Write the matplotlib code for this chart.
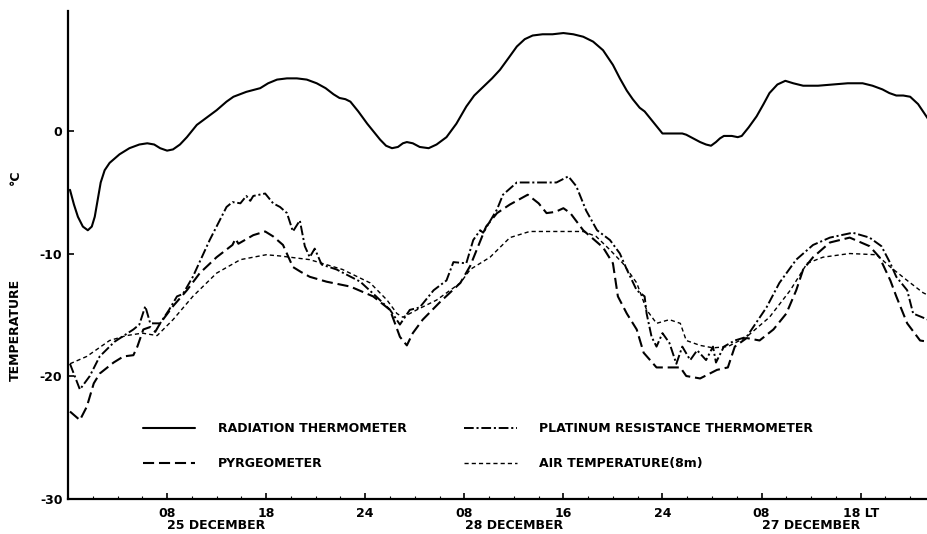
import matplotlib
matplotlib.use("Agg")
import matplotlib.pyplot as plt
from matplotlib.ticker import FixedLocator, MultipleLocator

plt.rcParams['font.family'] = ['DejaVu Sans']
plt.rcParams['font.weight'] = 'bold'
plt.rcParams['lines.scale_dashes'] = False

# ---- data (x in tick-interval units from the left axis) ----
rad_t = [0.02, 0.06, 0.10, 0.15, 0.20, 0.24, 0.27, 0.30, 0.33, 0.37, 0.42, 0.52, 0.62, 0.72,
         0.80, 0.87, 0.93, 1.00, 1.06, 1.13, 1.20, 1.30, 1.40, 1.50, 1.60, 1.67, 1.80, 1.94,
         2.02, 2.11, 2.21, 2.31, 2.41, 2.51, 2.60, 2.68, 2.74, 2.80, 2.85, 2.93, 3.02, 3.09,
         3.15, 3.21, 3.27, 3.33, 3.38, 3.42, 3.48, 3.55, 3.64, 3.72, 3.82, 3.92, 4.02, 4.10,
         4.19, 4.28, 4.36, 4.45, 4.53, 4.61, 4.69, 4.79, 4.89, 5.00, 5.10, 5.20, 5.30, 5.40,
         5.50, 5.57, 5.64, 5.70, 5.77, 5.82, 5.87, 5.94, 6.00, 6.10, 6.20, 6.24, 6.31, 6.38,
         6.44, 6.49, 6.54, 6.58, 6.62, 6.70, 6.76, 6.80, 6.87, 6.95, 7.02, 7.08, 7.16, 7.24,
         7.32, 7.42, 7.57, 7.72, 7.87, 8.02, 8.12, 8.22, 8.29, 8.36, 8.43, 8.50, 8.58, 8.68]
rad_v = [-4.8, -6.0, -7.0, -7.8, -8.1, -7.8, -7.0, -5.6, -4.2, -3.2, -2.6, -1.9, -1.4, -1.1,
         -1.0, -1.1, -1.4, -1.6, -1.5, -1.1, -0.5, 0.5, 1.1, 1.7, 2.4, 2.8, 3.2, 3.5,
         3.9, 4.2, 4.3, 4.3, 4.2, 3.9, 3.5, 3.0, 2.7, 2.6, 2.4, 1.6, 0.6, -0.1,
         -0.7, -1.2, -1.4, -1.3, -1.0, -0.9, -1.0, -1.3, -1.4, -1.1, -0.5, 0.6, 2.0, 2.9,
         3.6, 4.3, 5.0, 6.0, 6.9, 7.5, 7.8, 7.9, 7.9, 8.0, 7.9, 7.7, 7.3, 6.6,
         5.4, 4.3, 3.3, 2.6, 1.9, 1.6, 1.1, 0.4, -0.2, -0.2, -0.2, -0.3, -0.6, -0.9,
         -1.1, -1.2, -0.9, -0.6, -0.4, -0.4, -0.5, -0.4, 0.3, 1.2, 2.2, 3.1, 3.8, 4.1,
         3.9, 3.7, 3.7, 3.8, 3.9, 3.9, 3.7, 3.4, 3.1, 2.9, 2.9, 2.8, 2.2, 1.0]

pyr_t = [0.02, 0.12, 0.19, 0.26, 0.32, 0.46, 0.56, 0.66, 0.70, 0.76, 0.83, 0.88, 0.93, 1.06,
         1.20, 1.33, 1.50, 1.66, 1.69, 1.72, 1.87, 1.99, 2.07, 2.17, 2.27, 2.35, 2.44, 2.61,
         2.85, 3.08, 3.25, 3.35, 3.42, 3.48, 3.58, 3.75, 3.96, 4.06, 4.16, 4.22, 4.33, 4.46,
         4.64, 4.75, 4.83, 4.92, 5.00, 5.07, 5.20, 5.40, 5.50, 5.55, 5.64, 5.74, 5.81, 5.94,
         6.07, 6.18, 6.24, 6.38, 6.55, 6.66, 6.73, 6.85, 6.98, 7.12, 7.25, 7.35, 7.42, 7.52,
         7.69, 7.89, 8.09, 8.19, 8.30, 8.36, 8.47, 8.60, 8.68]
pyr_v = [-22.9, -23.6, -22.5, -20.6, -19.8, -18.9, -18.4, -18.3, -17.6, -16.2, -16.0, -16.4, -15.7, -14.3,
         -13.0, -11.6, -10.3, -9.3, -8.8, -9.2, -8.5, -8.2, -8.6, -9.3, -11.1, -11.5, -11.9, -12.3,
         -12.7, -13.5, -14.6, -16.8, -17.5, -16.5, -15.4, -14.0, -12.4, -11.0, -9.0, -7.8, -6.7, -6.0,
         -5.2, -5.9, -6.7, -6.6, -6.3, -6.7, -8.1, -9.5, -10.8, -13.5, -14.9, -16.2, -18.1, -19.3,
         -19.3, -19.3, -20.0, -20.2, -19.5, -19.3, -17.6, -16.9, -17.1, -16.2, -14.9, -13.0, -11.3, -10.3,
         -9.1, -8.7, -9.4, -10.3, -12.2, -13.5, -15.7, -17.1, -17.2]

plt_t = [0.02, 0.12, 0.22, 0.32, 0.47, 0.66, 0.72, 0.78, 0.83, 0.93, 1.02, 1.10, 1.16, 1.26,
         1.43, 1.60, 1.66, 1.74, 1.80, 1.84, 1.87, 1.99, 2.07, 2.14, 2.21, 2.27, 2.34, 2.39,
         2.44, 2.49, 2.56, 2.71, 2.95, 3.11, 3.25, 3.35, 3.45, 3.55, 3.69, 3.82, 3.89, 4.02,
         4.09, 4.16, 4.19, 4.33, 4.39, 4.53, 4.73, 4.93, 5.05, 5.13, 5.23, 5.34, 5.47, 5.57,
         5.64, 5.74, 5.82, 5.84, 5.89, 5.94, 6.00, 6.07, 6.14, 6.20, 6.28, 6.35, 6.44, 6.51,
         6.54, 6.62, 6.73, 6.85, 7.05, 7.18, 7.35, 7.52, 7.69, 7.92, 8.09, 8.21, 8.30, 8.36,
         8.47, 8.53, 8.68]
plt_v = [-19.0, -21.1, -20.0, -18.4, -17.2, -16.2, -15.8, -14.3, -15.7, -15.7, -14.6, -13.5, -13.3, -11.9,
         -8.9, -6.2, -5.8, -5.9, -5.3, -5.7, -5.3, -5.1, -5.9, -6.2, -6.7, -8.2, -7.3, -9.4,
         -10.3, -9.6, -10.9, -11.3, -12.3, -13.5, -14.6, -15.8, -14.6, -14.4, -13.0, -12.2, -10.7, -10.8,
         -8.9, -8.1, -8.3, -6.4, -5.2, -4.2, -4.2, -4.2, -3.7, -4.5, -6.5, -8.1, -8.9, -10.0,
         -11.3, -13.0, -13.5, -14.9, -16.8, -17.6, -16.5, -17.3, -19.0, -17.6, -18.7, -17.9, -18.7, -17.6,
         -18.9, -17.6, -17.1, -16.8, -14.4, -12.4, -10.5, -9.3, -8.7, -8.3, -8.7, -9.4, -10.8, -11.9,
         -13.0, -14.9, -15.4]

air_t = [0.02, 0.19, 0.42, 0.59, 0.75, 0.90, 1.06, 1.26, 1.50, 1.74, 2.00, 2.14, 2.44, 2.77,
         3.05, 3.22, 3.32, 3.38, 3.52, 3.72, 3.96, 4.06, 4.26, 4.46, 4.66, 4.93, 5.20, 5.33,
         5.47, 5.60, 5.74, 5.84, 5.94, 6.07, 6.18, 6.24, 6.38, 6.51, 6.66, 6.85, 7.08, 7.29,
         7.46, 7.62, 7.89, 8.16, 8.30, 8.47, 8.63, 8.68]
air_v = [-19.0, -18.4, -17.1, -16.7, -16.5, -16.7, -15.4, -13.5, -11.6, -10.5, -10.1, -10.2, -10.5, -11.3,
         -12.4, -13.8, -14.9, -15.2, -14.6, -13.8, -12.4, -11.3, -10.3, -8.7, -8.2, -8.2, -8.2, -8.6,
         -9.7, -10.8, -12.4, -14.6, -15.7, -15.4, -15.7, -17.1, -17.5, -17.7, -17.6, -16.8, -15.2, -13.0,
         -10.8, -10.3, -10.0, -10.1, -11.1, -12.2, -13.2, -13.4]

tick_pos = [1, 2, 3, 4, 5, 6, 7, 8]
tick_labels = ['08', '18', '24', '08', '16', '24', '08', '18 LT']
day_pos = [1.5, 4.5, 7.5]
day_labels = ['25 DECEMBER', '28 DECEMBER', '27 DECEMBER']
yticks = [-30, -20, -10, 0]

W, H = 928, 534
fig = plt.figure(figsize=(W / 100, H / 100), dpi=100)
ax = fig.add_axes([68 / W, 1 - 498.5 / H, 860 / W, 487.5 / H])

l1, = ax.plot(rad_t, rad_v, color='black', lw=1.5, solid_joinstyle='round',
              solid_capstyle='round', label='RADIATION THERMOMETER')
l2, = ax.plot(pyr_t, pyr_v, color='black', lw=1.5, dashes=(8, 3.5),
              label='PYRGEOMETER')
l3, = ax.plot(plt_t, plt_v, color='black', lw=1.4, dashes=(7, 2, 1.5, 2),
              label='PLATINUM RESISTANCE THERMOMETER')
l4, = ax.plot(air_t, air_v, color='black', lw=1.0, dashes=(3, 2.2),
              label='AIR TEMPERATURE(8m)')

ax.set_xlim(0, 8.68)
ax.set_ylim(-30, 9.8)
for s in ['top', 'right']:
    ax.spines[s].set_visible(False)
for s in ['left', 'bottom']:
    ax.spines[s].set_linewidth(1.6)

ax.set_yticks(yticks)
ax.set_yticklabels([str(v) for v in yticks])
ax.xaxis.set_major_locator(FixedLocator(tick_pos))
ax.set_xticklabels(tick_labels)
ax.xaxis.set_minor_locator(MultipleLocator(0.25))
ax.tick_params(axis='both', which='major', direction='in', length=4, width=1.2,
               labelsize=9, pad=4)
ax.tick_params(axis='x', which='major', pad=6)
ax.tick_params(axis='x', which='minor', direction='in', length=2, width=0.8)
for lab in ax.get_xticklabels() + ax.get_yticklabels():
    lab.set_fontweight('bold')

for p, d in zip(day_pos, day_labels):
    ax.text(p, -0.056, d, transform=ax.get_xaxis_transform(), ha='center',
            va='center', fontsize=9, fontweight='bold')

fig.text(15 / W, 1 - 330 / H, 'TEMPERATURE', rotation=90, ha='center', va='center',
         fontsize=9, fontweight='bold')
fig.text(15 / W, 1 - 177 / H, '°C', rotation=90, ha='center', va='center',
         fontsize=9, fontweight='bold')

leg = ax.legend(handles=[l1, l2, l3, l4], ncol=2, loc='upper left',
                bbox_to_anchor=((143 - 68) / 860, (498.5 - 422) / 487.5),
                frameon=False, fontsize=9, handlelength=4.2, handletextpad=1.8,
                columnspacing=4.6, labelspacing=1.75, borderpad=0, borderaxespad=0)
for t in leg.get_texts():
    t.set_fontweight('bold')

fig.savefig('out.png', dpi=100)
